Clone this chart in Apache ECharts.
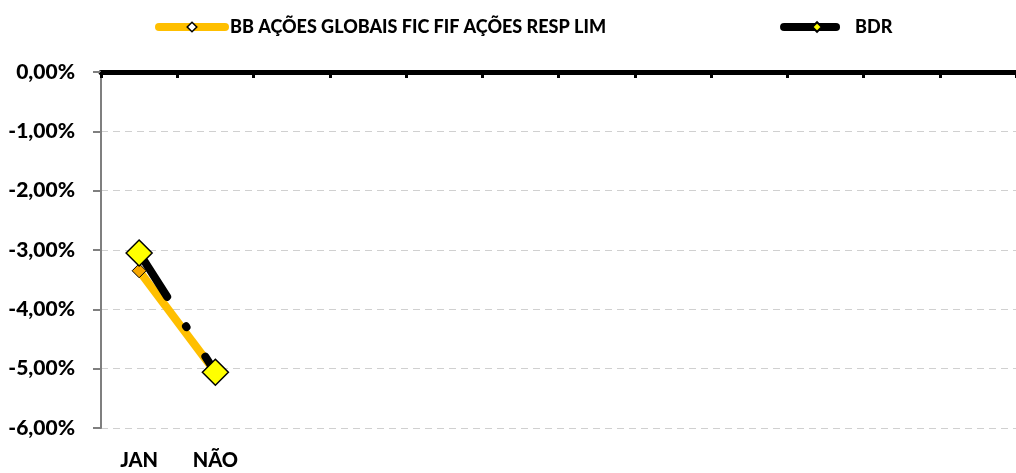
<!DOCTYPE html>
<html>
<head>
<meta charset="utf-8">
<script src="https://cdn.jsdelivr.net/npm/echarts@6/dist/echarts.min.js"></script>
<style>
    html, body { margin: 0; padding: 0; background: #fff; }
    #chart { width: 1016px; height: 473px; }
</style>
</head>
<body>
<div id="chart"></div>
<script>
var categories = ['JAN', 'NÃO', '', '', '', '', '', '', '', '', '', ''];
var fundValues = [-3.35, -5.06, null, null, null, null, null, null, null, null, null, null];
var bdrValues = [-3.05, -5.06, null, null, null, null, null, null, null, null, null, null];
var yTicks = [0, -1, -2, -3, -4, -5, -6];

var fontFamily = 'Lato, "Open Sans", sans-serif';

function pct(v) {
    return v.toFixed(2).replace('.', ',') + '%';
}

var myChart = echarts.init(document.getElementById('chart'));

var option = {
    animation: false,
    legend: {
        top: 13,
        left: 150,
        itemGap: 174,
        itemWidth: 66,
        itemHeight: 12,
        lineStyle: { width: 8, cap: 'round' },
        textStyle: { fontFamily: fontFamily, fontWeight: 900, fontSize: 18, color: '#000' },
        data: [
            { name: 'BB AÇÕES GLOBAIS FIC FIF AÇÕES RESP LIM', itemStyle: { color: '#fff', borderColor: '#000', borderWidth: 1.5 } },
            { name: 'BDR' }
        ]
    },
    grid: {
        left: 101,
        right: 0,
        top: 72,
        bottom: 45
    },
    xAxis: [
        {
            type: 'category',
            data: categories,
            position: 'top',
            boundaryGap: true,
            axisLine: { onZero: false, lineStyle: { color: '#000', width: 5 } },
            axisTick: { show: true, inside: true, length: 6, lineStyle: { color: '#000', width: 3 } },
            axisLabel: { show: false },
            splitLine: { show: false }
        },
        {
            type: 'category',
            data: categories,
            position: 'bottom',
            boundaryGap: true,
            axisLine: { show: false },
            axisTick: { show: false },
            axisLabel: { margin: 23, fontFamily: fontFamily, fontWeight: 900, fontSize: 20, color: '#000' },
            splitLine: { show: false }
        }
    ],
    yAxis: {
        type: 'value',
        min: yTicks[yTicks.length - 1],
        max: yTicks[0],
        interval: 1,
        axisLine: { show: true, lineStyle: { color: '#7f7f7f', width: 2 } },
        axisTick: { show: true, length: 8, lineStyle: { color: '#7f7f7f', width: 2 } },
        axisLabel: {
            margin: 26,
            fontFamily: fontFamily,
            fontWeight: 900,
            fontSize: 21,
            color: '#000',
            formatter: pct
        },
        splitLine: { show: true, lineStyle: { color: '#d0d0d0', type: [7, 5], width: 1 } }
    },
    series: [
        {
            name: 'BB AÇÕES GLOBAIS FIC FIF AÇÕES RESP LIM',
            type: 'line',
            xAxisIndex: 0,
            data: fundValues,
            symbol: 'diamond',
            symbolSize: 14,
            lineStyle: { color: '#ffbf00', width: 8 },
            itemStyle: { color: '#f7a700', borderColor: '#000', borderWidth: 1 }
        },
        {
            name: 'BDR',
            type: 'line',
            xAxisIndex: 0,
            data: bdrValues,
            symbol: 'diamond',
            symbolSize: 26,
            lineStyle: { color: '#000', width: 8, type: [52, 35, 1, 35], cap: 'round' },
            itemStyle: { color: '#ffff00', borderColor: '#000', borderWidth: 1.5 }
        }
    ]
};

myChart.setOption(option);
</script>
</body>
</html>
